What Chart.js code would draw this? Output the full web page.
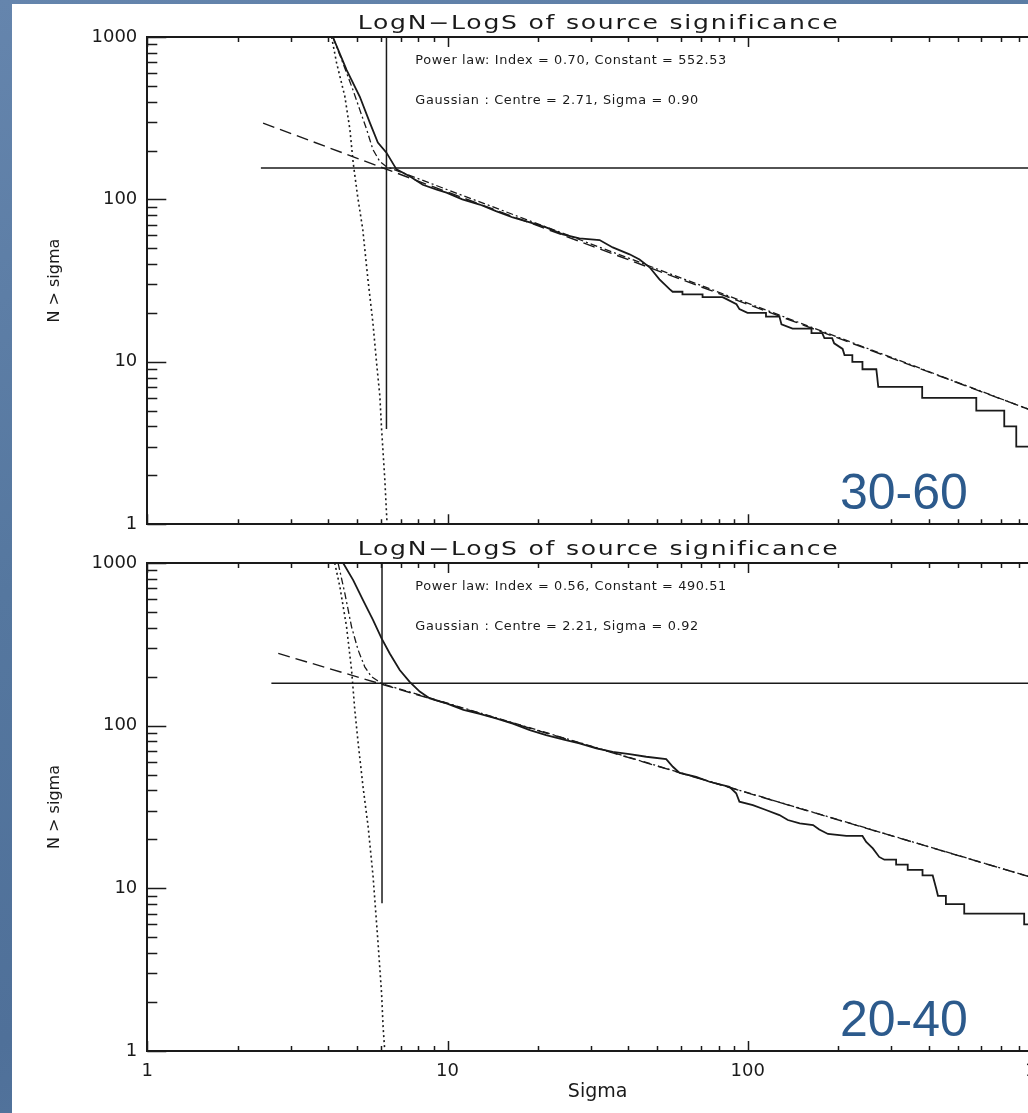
<!DOCTYPE html>
<html>
<head>
<meta charset="utf-8">
<script src="https://cdn.jsdelivr.net/npm/chart.js@4.4.1/dist/chart.umd.min.js"></script>
<style>
  html, body { margin:0; padding:0; width:1028px; height:1113px; overflow:hidden; }
  body { background: linear-gradient(160deg, #6585ad 0%, #55779f 40%, #4f7099 70%, #5a7ca4 100%); position:relative; }
  #paper { position:absolute; left:12px; top:4px; width:1100px; height:1200px; background:#ffffff; }
  canvas { position:absolute; left:0; }
  #c1 { top:0; }
  #c2 { top:530px; }
</style>
</head>
<body>
<div id="paper"></div>
<canvas id="c1" width="1100" height="545"></canvas>
<canvas id="c2" width="1100" height="583"></canvas>
<script>
// ---------- tick labels ----------
const xTickValues = [1, 10, 100, 1000];
const xTickLabels = ['1', '10', '100', '1000'];
const yTickValues = [1, 10, 100, 1000];
const yTickLabels = ['1', '10', '100', '1000'];

// ---------- texts ----------
const chartTitle = 'LogN\u2212LogS of source significance';
const xAxisTitle = 'Sigma';
const yAxisTitle = 'N > sigma';

// ---------- top panel (30-60) ----------
const topLabel = '30-60';
const topPowerText = 'Power law: Index = 0.70, Constant = 552.53';
const topGaussText = 'Gaussian : Centre = 2.71, Sigma = 0.90';
const topDataSigma = [4.15,4.61,5.10,5.51,5.86,6.26,6.76,7.48,8.27,9.21,9.92,11.2,12.8,14.5,16.5,18.8,21.3,24.2,27.5,32.1,35.5,40.4,43.6,47.1,50.8,54.9,56.2,60.6,60.6,70.7,70.7,82.4,85.0,91.7,93.8,99.8,115,115,127.5,129.5,141,163,163,177,180,191,194,207,210,223,223,241,241,268,270,272,381,381,577,577,715,715,784,784,1000];
const topDataN     = [1000,628,430,297,224,194,153,139,123,115,110,100,93,84.6,77.4,72.1,67.2,60.9,57.5,56.2,50.6,45.9,42.7,38.2,32.2,28.0,27,27,26,26,25,25,24.3,22.6,21.1,20,20,19,19,17,16,16,15,15,14,14,13,12,11,11,10,10,9,9,8,7,7,6,6,5,5,4,4,3,3];
const topGaussSigma = [4.11,4.27,4.55,4.73,4.85,5.02,5.22,5.43,5.64,5.80,5.95,6.03,6.18,6.29];
const topGaussN     = [1000,693,430,269,168,104,65.3,32.2,17.5,9.96,6.16,3.86,1.90,1.0];
const topSumSigma = [4.15,4.48,4.84,5.10,5.38,5.64,5.95,6.26,1000];
const topSumN     = [1000,693,473,357,269,203,171,159,4.6];
const topPowerSigma = [2.43, 1000];
const topPowerN     = [295, 4.6];
const topHorizSigma = [2.39, 1000];
const topHorizN     = [156, 156];
const topVertSigma = [6.26, 6.26];
const topVertN     = [1000, 3.86];

// ---------- bottom panel (20-40) ----------
const botLabel = '20-40';
const botPowerText = 'Power law: Index = 0.56, Constant = 490.51';
const botGaussText = 'Gaussian : Centre = 2.21, Sigma = 0.92';
const botDataSigma = [4.49,4.85,5.23,5.65,6.03,6.42,6.93,7.48,8.08,8.73,9.92,11.3,12.8,14.5,16.5,18.8,21.3,24.2,27.5,31.3,35.5,40.4,45.9,53.5,56.3,59.3,67.3,74.6,86.9,91.5,93.8,104,115,127.5,136,149,165,173,185,213,241,248,261,274,285,312,312,341,341,382,382,413,424,430,457,457,526,526,833,833,1000];
const botDataN     = [1000,785,591,446,344,278,220,186,162,147,137,125,118,111,103,94,87.5,82.4,77.8,72.5,69.1,66.9,64.4,62.3,55.9,51.3,48.5,45.2,42.1,38.4,34.1,32.5,30.3,28.2,26.3,25.1,24.5,23,21.6,21,21,19.3,17.6,15.6,15,15,14,14,13,13,12,12,10,9,9,8,8,7,7,6,6];
const botGaussSigma = [4.21,4.38,4.61,4.79,4.91,5.04,5.23,5.44,5.65,5.77,5.87,6.03,6.10,6.18];
const botGaussN     = [1000,714,405,220,125,77.8,42.1,23.9,11.8,7.02,4.59,2.26,1.41,1.0];
const botSumSigma = [4.32,4.55,4.79,5.04,5.30,5.58,5.80,6.05,1000];
const botSumN     = [1000,650,405,291,230,200,191,181,10.9];
const botPowerSigma = [2.73, 1000];
const botPowerN     = [278, 10.9];
const botHorizSigma = [2.59, 1000];
const botHorizN     = [182, 182];
const botVertSigma = [6.05, 6.05];
const botVertN     = [1000, 8.09];

// ---------- helpers ----------
function pts(xs, ys) { return xs.map((v, i) => ({ x: v, y: ys[i] })); }

// draws text horizontally stretched by sx, with extra letter spacing to reach target width
function wideText(ctx, text, x, y, target, sx, align) {
  const w0 = ctx.measureText(text).width;
  const n = text.length;
  let ls = (target / sx - w0) / (n - 1);
  if (ls < 0) ls = 0;
  const w = (w0 + ls * (n - 1)) * sx;
  const x0 = align === 'center' ? x - w / 2 : x;
  ctx.save();
  ctx.translate(x0, y);
  ctx.scale(sx, 1);
  ctx.textAlign = 'left';
  if ('letterSpacing' in ctx) {
    ctx.letterSpacing = ls + 'px';
    ctx.fillText(text, 0, 0);
  } else {
    let cx = 0;
    for (const ch of text) { ctx.fillText(ch, cx, 0); cx += ctx.measureText(ch).width + ls; }
  }
  ctx.restore();
  return ls;
}

const ink = '#1a1a1a';

const idlFrame = {
  id: 'idlFrame',
  afterDatasetsDraw(chart) {
    const { ctx, chartArea: a, scales: { x, y } } = chart;
    ctx.save();
    ctx.strokeStyle = ink;
    ctx.lineWidth = 2;
    ctx.beginPath();
    ctx.moveTo(a.left, a.top); ctx.lineTo(a.right, a.top);
    ctx.stroke();
    ctx.lineWidth = 1.5;
    ctx.beginPath();
    for (const d of [1, 10, 100]) {
      for (let m = 1; m <= 10; m++) {
        const v = d * m;
        const major = (m === 1 || m === 10);
        const px = Math.round(x.getPixelForValue(v)) + 0.5;
        const lx = major ? 10 : 5;
        ctx.moveTo(px, a.bottom); ctx.lineTo(px, a.bottom - lx);
        ctx.moveTo(px, a.top); ctx.lineTo(px, a.top + lx);
        const py = Math.round(y.getPixelForValue(v)) + 0.5;
        const ly = major ? 19 : 10;
        ctx.moveTo(a.left, py); ctx.lineTo(a.left + ly, py);
      }
    }
    ctx.stroke();
    ctx.restore();
  }
};

const idlText = {
  id: 'idlText',
  afterDraw(chart, args, o) {
    const { ctx, chartArea: a } = chart;
    ctx.save();
    ctx.fillStyle = ink;
    ctx.textBaseline = 'alphabetic';
    ctx.font = '19px "DejaVu Sans", sans-serif';
    wideText(ctx, o.title, (a.left + a.right) / 2, a.top - 8.5, 480, 1.32, 'center');
    ctx.font = '11.5px "DejaVu Sans", sans-serif';
    wideText(ctx, o.power, a.left + 268, a.top + 26.5, 311, 1.12, 'left');
    wideText(ctx, o.gauss, a.left + 268, a.top + 66.5, o.gaussW, 1.12, 'left');
    ctx.font = '50px "Liberation Sans", Arial, sans-serif';
    ctx.fillStyle = '#2c5a8c';
    ctx.textAlign = 'left';
    ctx.fillText(o.label, o.labelX, a.bottom - 15);
    ctx.restore();
  }
};

function makeChart(id, p) {
  const tickFont = { family: '"DejaVu Sans", sans-serif', size: 18 };
  return new Chart(document.getElementById(id), {
    type: 'line',
    data: {
      datasets: [
        { data: pts(p.horizS, p.horizN), borderColor: ink, borderWidth: 1.5 },
        { data: pts(p.vertS, p.vertN), borderColor: ink, borderWidth: 1.5 },
        { data: pts(p.powerS, p.powerN), borderColor: ink, borderWidth: 1.4, borderDash: [12, 6] },
        { data: pts(p.sumS, p.sumN), borderColor: ink, borderWidth: 1.3, borderDash: [7, 3, 2, 3] },
        { data: pts(p.gaussS, p.gaussN), borderColor: ink, borderWidth: 1.6, borderDash: [2, 3] },
        { data: pts(p.dataS, p.dataN), borderColor: ink, borderWidth: 1.8 }
      ]
    },
    options: {
      responsive: false,
      animation: false,
      devicePixelRatio: 1,
      layout: { padding: { top: p.padTop, left: 0, right: 52, bottom: 0 } },
      elements: { point: { radius: 0 }, line: { tension: 0, fill: false, borderCapStyle: 'butt' } },
      plugins: {
        legend: { display: false },
        tooltip: { enabled: false },
        title: { display: false },
        idlText: { title: chartTitle, power: p.power, gauss: p.gauss, gaussW: 283, label: p.label, labelX: 840 }
      },
      scales: {
        x: {
          type: 'logarithmic', position: 'bottom', min: 1, max: 1000,
          grid: { display: false, drawTicks: false },
          border: { display: true, color: ink, width: 2 },
          afterBuildTicks: s => { s.ticks = xTickValues.map(v => ({ value: v })); },
          ticks: { display: p.showX, autoSkip: false, maxRotation: 0, padding: 9.5, color: ink, font: tickFont,
                   callback: (v, i) => xTickLabels[i] },
          title: { display: p.showX, text: xAxisTitle, color: ink,
                   font: { family: '"DejaVu Sans", sans-serif', size: 19 }, padding: { top: 0, bottom: 9.5 } },
          afterFit: s => { s.height = p.xHeight; }
        },
        y: {
          type: 'logarithmic', position: 'left', min: 1, max: 1000,
          grid: { display: false, drawTicks: false },
          border: { display: true, color: ink, width: 2 },
          afterBuildTicks: s => { s.ticks = yTickValues.map(v => ({ value: v })); },
          ticks: { autoSkip: false, padding: 10, color: ink, font: tickFont,
                   callback: (v, i) => yTickLabels[i] },
          title: { display: true, text: yAxisTitle, color: ink,
                   font: { family: '"DejaVu Sans", sans-serif', size: 16 }, padding: { top: 45.5, bottom: 0 } },
          afterFit: s => { s.width = 147.3; }
        }
      }
    },
    plugins: [idlFrame, idlText]
  });
}

makeChart('c1', {
  padTop: 37, xHeight: 19.5, showX: false,
  power: topPowerText, gauss: topGaussText, label: topLabel,
  dataS: topDataSigma, dataN: topDataN, gaussS: topGaussSigma, gaussN: topGaussN,
  sumS: topSumSigma, sumN: topSumN, powerS: topPowerSigma, powerN: topPowerN,
  horizS: topHorizSigma, horizN: topHorizN, vertS: topVertSigma, vertN: topVertN
});
makeChart('c2', {
  padTop: 33, xHeight: 62, showX: true,
  power: botPowerText, gauss: botGaussText, label: botLabel,
  dataS: botDataSigma, dataN: botDataN, gaussS: botGaussSigma, gaussN: botGaussN,
  sumS: botSumSigma, sumN: botSumN, powerS: botPowerSigma, powerN: botPowerN,
  horizS: botHorizSigma, horizN: botHorizN, vertS: botVertSigma, vertN: botVertN
});
</script>
</body>
</html>
